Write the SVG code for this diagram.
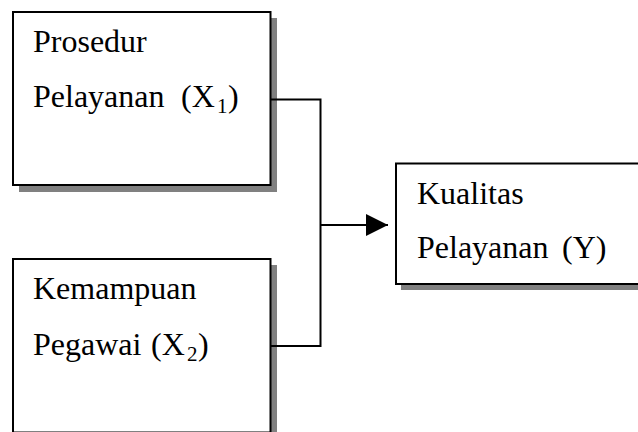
<svg xmlns="http://www.w3.org/2000/svg" width="638" height="432" viewBox="0 0 638 432">
<style>
.shadow{fill:#808080;stroke:none}
.box{fill:#fff;stroke:#000;stroke-width:2}
.t{font-family:"Liberation Serif","Times New Roman",serif;font-size:32px;fill:#000}
.sub{font-size:21px}
.conn{fill:none;stroke:#000;stroke-width:2}
</style>
<defs>
<marker id="arr" markerUnits="userSpaceOnUse" markerWidth="24" markerHeight="24" refX="22" refY="11" orient="auto">
<path d="M0,0 L22,11 L0,22 Z" fill="#000"/>
</marker>
</defs>
<rect width="638" height="432" fill="#fff"/>
<g id="node-x1">
<rect class="shadow" x="19" y="18" width="258" height="174"/>
<rect class="box" x="13" y="12" width="257.5" height="173"/>
<text class="t" x="33" y="52">Prosedur</text>
<text class="t" x="33" y="107">Pelayanan</text>
<text class="t" x="181" y="107">(X<tspan class="sub" x="217" dy="6">1</tspan><tspan x="228" dy="-6">)</tspan></text>
</g>
<g id="node-x2">
<rect class="shadow" x="19" y="265" width="258" height="174"/>
<rect class="box" x="13" y="259" width="257.5" height="173.5"/>
<text class="t" x="33" y="299">Kemampuan</text>
<text class="t" x="33" y="355">Pegawai</text>
<text class="t" x="151" y="355">(X<tspan class="sub" x="187" dy="6">2</tspan><tspan x="198" dy="-6">)</tspan></text>
</g>
<g id="node-y">
<rect class="shadow" x="401" y="168" width="245" height="122"/>
<rect class="box" x="396" y="163.5" width="245" height="120.5"/>
<text class="t" x="417" y="204">Kualitas</text>
<text class="t" x="417" y="258">Pelayanan</text>
<text class="t" x="562" y="258">(Y)</text>
</g>
<g id="connectors">
<polyline class="conn" points="270.5,99.5 320.5,99.5 320.5,346 270.5,346"/>
<line class="conn" x1="320.5" y1="225" x2="388" y2="225" marker-end="url(#arr)"/>
</g>
</svg>
